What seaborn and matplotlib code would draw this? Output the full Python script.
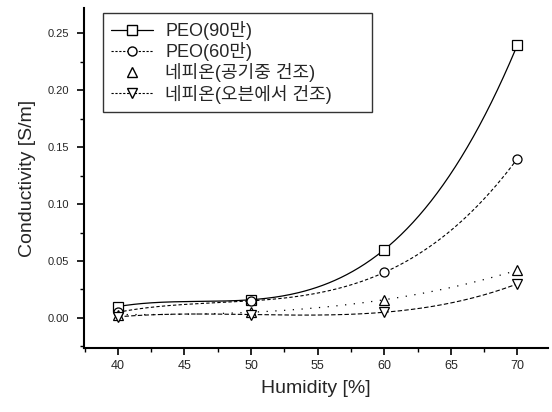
import seaborn as sns
import matplotlib.pyplot as plt
from matplotlib.lines import Line2D
import numpy as np

humidity = [40, 50, 60, 70]
peo_90 = [0.010, 0.016, 0.060, 0.240]
peo_60 = [0.005, 0.015, 0.040, 0.140]
nafion_air = [0.003, 0.005, 0.016, 0.042]
nafion_oven = [0.001, 0.003, 0.005, 0.030]

labels = ["PEO(90만)", "PEO(60만)", "네피온(공기중 건조)", "네피온(오븐에서 건조)"]

sns.set_style("ticks")
plt.rcParams['font.family'] = ['Liberation Sans', 'Noto Sans CJK KR', 'DejaVu Sans']

fig = plt.figure(figsize=(5.52, 4.12), dpi=100)
ax = fig.add_axes([0.152, 0.155, 0.841, 0.825])

series = [
    (peo_90, "s", "-", 0.9),
    (peo_60, "o", (0, (3, 2)), 0.8),
    (nafion_air, "^", (0, (1, 6)), 0.9),
    (nafion_oven, "v", (0, (4, 2)), 0.8),
]

# smooth curve through the four points (cubic, like Origin's spline)
xs = np.linspace(humidity[0], humidity[-1], 200)
for vals, mk, ls, lw in series:
    coef = np.polyfit(humidity, vals, 3)
    sns.lineplot(x=xs, y=np.polyval(coef, xs), ax=ax, color="black",
                 linestyle=ls, linewidth=lw)
    ax.plot(humidity, vals, linestyle="none", marker=mk, markersize=6.5,
            markerfacecolor="white", markeredgecolor="black",
            markeredgewidth=0.9)

ax.set_xlim(37.45, 72.3)
ax.set_ylim(-0.0265, 0.272)
ax.set_xticks([40, 45, 50, 55, 60, 65, 70])
ax.set_xticks(np.arange(37.5, 72.5, 2.5), minor=True)
ax.set_yticks([0.00, 0.05, 0.10, 0.15, 0.20, 0.25])
ax.set_yticks(np.arange(-0.025, 0.27, 0.025), minor=True)
ax.set_yticklabels(["0.00", "0.05", "0.10", "0.15", "0.20", "0.25"], fontsize=8)
ax.set_xticklabels([str(v) for v in [40, 45, 50, 55, 60, 65, 70]], fontsize=9)
ax.tick_params(which="major", direction="out", length=5, width=1.2, color="black")
ax.tick_params(axis="y", which="major", pad=6)
ax.tick_params(which="minor", direction="out", length=3, width=1.0, color="black")
ax.set_xlabel("Humidity [%]", fontsize=14, labelpad=6)
ax.set_ylabel("Conductivity [S/m]", fontsize=14, labelpad=8)

sns.despine(ax=ax, top=True, right=True)
for s in ["left", "bottom"]:
    ax.spines[s].set_linewidth(1.5)
    ax.spines[s].set_color("black")

handles = [
    Line2D([], [], color="black", linestyle="-", linewidth=0.9, marker="s",
           markersize=6.5, markerfacecolor="white"),
    Line2D([], [], color="black", linestyle=(0, (2, 1.5)), linewidth=0.8, marker="o",
           markersize=6.5, markerfacecolor="white"),
    Line2D([], [], color="none", marker="^", markersize=6.5, markeredgecolor="black",
           markerfacecolor="white"),
    Line2D([], [], color="black", linestyle=(0, (2, 1.5)), linewidth=0.8, marker="v",
           markersize=6.5, markerfacecolor="white"),
]
leg = fig.legend(handles, labels, loc="upper left",
                 bbox_to_anchor=(103 / 552, 1 - 105 / 412, 269 / 552, 92 / 412),
                 mode="expand", fontsize=13,
                 frameon=True, fancybox=False, borderaxespad=0,
                 handlelength=2.3, handletextpad=0.7, labelspacing=0.12,
                 borderpad=0.45)
leg.get_frame().set_edgecolor("black")
leg.get_frame().set_linewidth(1.0)

fig.savefig("out.png", dpi=100)
